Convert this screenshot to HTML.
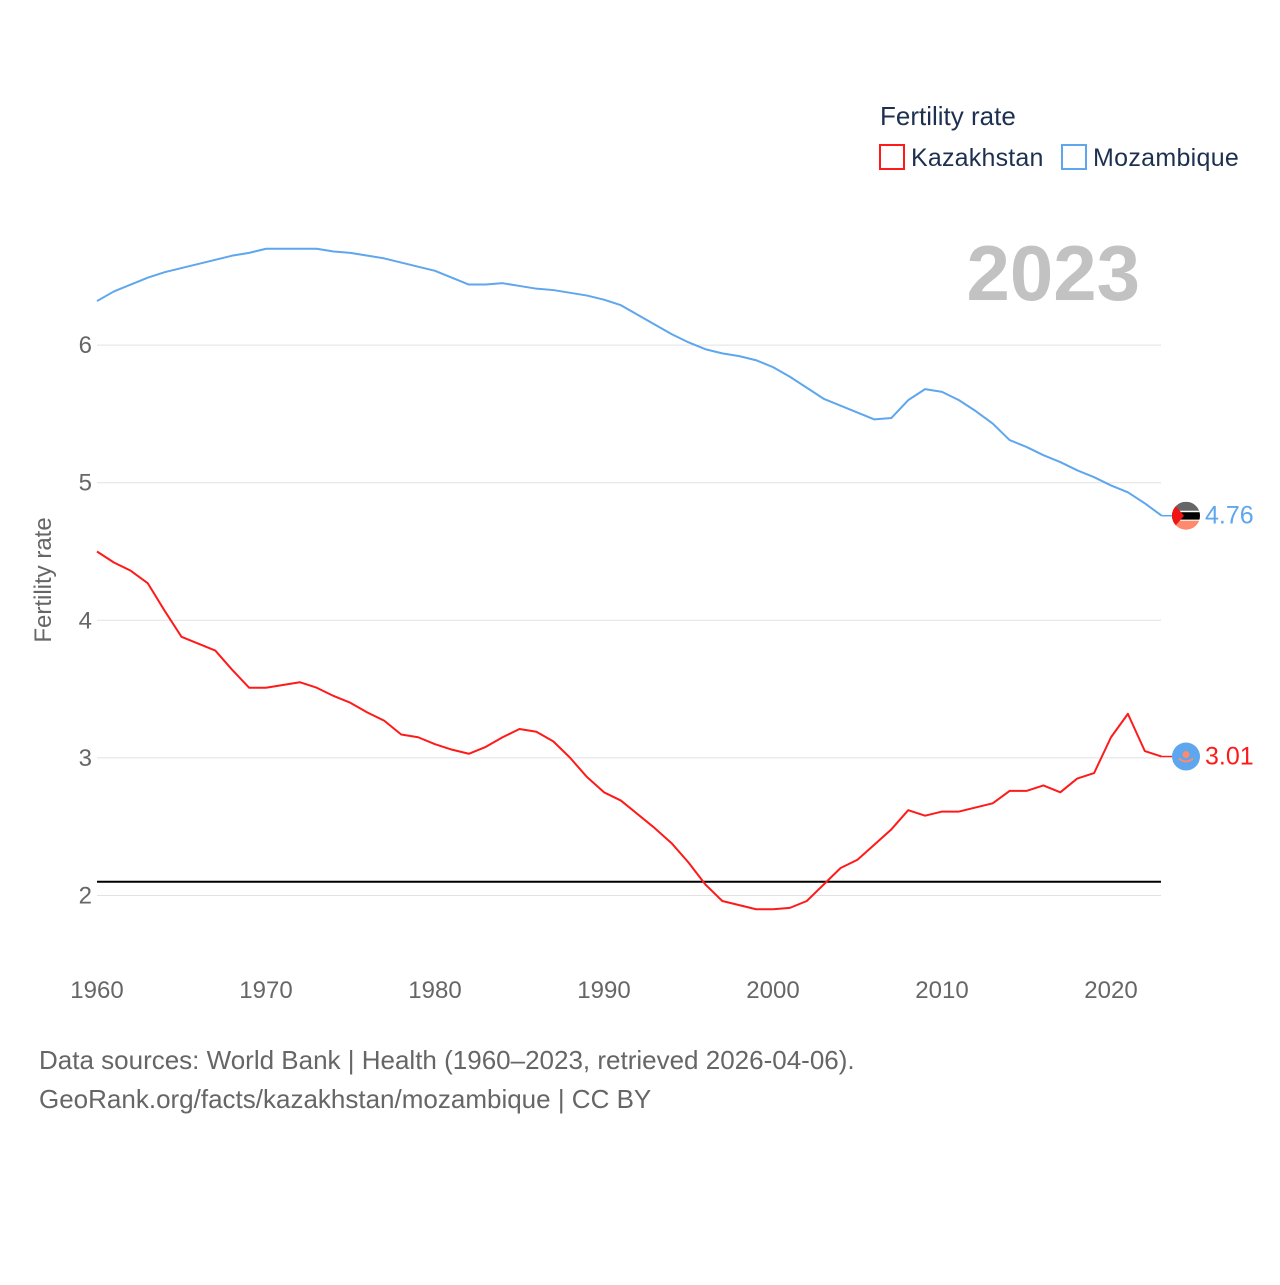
<!DOCTYPE html>
<html><head><meta charset="utf-8"><style>
html,body{margin:0;padding:0;background:#fff;}
svg text{font-family:"Liberation Sans",sans-serif;}
</style></head><body>
<svg id="chart" width="1280" height="1280" viewBox="0 0 1280 1280" xmlns="http://www.w3.org/2000/svg">
<text x="880" y="125" font-size="26" fill="#1d3050">Fertility rate</text>
<rect x="880" y="145" width="24" height="24" fill="none" stroke="#ff1a1a" stroke-width="2"/>
<text x="911" y="166" font-size="25" fill="#1d3050" letter-spacing="0.2">Kazakhstan</text>
<rect x="1062" y="145" width="24" height="24" fill="none" stroke="#5ea6ee" stroke-width="2"/>
<text x="1093" y="166" font-size="25" fill="#1d3050" letter-spacing="0.3">Mozambique</text>
<text x="1140" y="300" font-size="78" font-weight="bold" fill="#c2c2c2" text-anchor="end">2023</text>
<text transform="translate(51,580) rotate(-90)" font-size="24" fill="#666" text-anchor="middle">Fertility rate</text>
<g id="grid"></g><g id="lines"></g><g id="ends"></g>
<text x="39" y="1069" font-size="26" fill="#666">Data sources: World Bank | Health (1960–2023, retrieved 2026-04-06).</text>
<text x="39" y="1108" font-size="26" fill="#666">GeoRank.org/facts/kazakhstan/mozambique | CC BY</text>
</svg>
<script>
const years = Array.from({length:64},(_,i)=>1960+i);
const mozambique = [6.32,6.39,6.44,6.49,6.53,6.56,6.59,6.62,6.65,6.67,6.70,6.70,6.70,6.70,6.68,6.67,6.65,6.63,6.60,6.57,6.54,6.49,6.44,6.44,6.45,6.43,6.41,6.40,6.38,6.36,6.33,6.29,6.22,6.15,6.08,6.02,5.97,5.94,5.92,5.89,5.84,5.77,5.69,5.61,5.56,5.51,5.46,5.47,5.60,5.68,5.66,5.60,5.52,5.43,5.31,5.26,5.20,5.15,5.09,5.04,4.98,4.93,4.85,4.76];
const kazakhstan = [4.50,4.42,4.36,4.27,4.07,3.88,3.83,3.78,3.64,3.51,3.51,3.53,3.55,3.51,3.45,3.40,3.33,3.27,3.17,3.15,3.10,3.06,3.03,3.08,3.15,3.21,3.19,3.12,3.00,2.86,2.75,2.69,2.59,2.49,2.38,2.24,2.08,1.96,1.93,1.90,1.90,1.91,1.96,2.08,2.20,2.26,2.37,2.48,2.62,2.58,2.61,2.61,2.64,2.67,2.76,2.76,2.80,2.75,2.85,2.89,3.15,3.32,3.05,3.01];
const yTicks = [2,3,4,5,6];
const xTicks = [1960,1970,1980,1990,2000,2010,2020];
const replacementRate = 2.1;
const NS="http://www.w3.org/2000/svg";
const x = y => 97 + (y-1960)*(1111-97)/60;
const yv = v => 895.5 - (v-2)*137.6;
function mk(tag, attrs, parent){const e=document.createElementNS(NS,tag);for(const k in attrs)e.setAttribute(k,attrs[k]);parent.appendChild(e);return e;}
const grid=document.getElementById('grid'), lines=document.getElementById('lines'), ends=document.getElementById('ends');
yTicks.forEach(t=>{
  const l=mk('line',{x1:97,x2:1161,y1:yv(t),y2:yv(t),stroke:'#e2e2e2','stroke-width':1},grid);
  
  
  const tx=mk('text',{x:92,y:yv(t)+8,'font-size':24,fill:'#666','text-anchor':'end'},grid);
  tx.textContent=t;
  
  
});
xTicks.forEach(t=>{
  const tx=mk('text',{x:x(t),y:998,'font-size':24,fill:'#666','text-anchor':'middle'},grid);
  tx.textContent=t;
  
  
});
const rl=mk('line',{x1:97,x2:1161,y1:yv(replacementRate),y2:yv(replacementRate),stroke:'#000','stroke-width':2},grid);


function series(vals,color,name){
  const p=mk('polyline',{points:vals.map((v,i)=>x(years[i])+','+yv(v)).join(' '),fill:'none',stroke:color,'stroke-width':2,'stroke-linejoin':'round'},lines);
  
  
  const last=vals[vals.length-1], lx=x(years[years.length-1]), ly=yv(last);
  mk('line',{x1:lx,x2:1172,y1:ly,y2:ly,stroke:color,'stroke-width':1.5},ends);
  const t=mk('text',{x:1205,y:ly+8,'font-size':25,fill:color},ends);
  t.textContent=last.toFixed(2);
  
  
  return ly;
}
const my=series(mozambique,'#5ea6ee','mozambique');
const ky=series(kazakhstan,'#ff1a1a','kazakhstan');
const fm=mk('g',{},ends);


const cp=mk('clipPath',{id:'cm'},fm); mk('circle',{cx:1186,cy:my,r:14},cp);
const gm=mk('g',{'clip-path':'url(#cm)'},fm);
mk('rect',{x:1172,y:my-14,width:28,height:10,fill:'#666'},gm);
mk('rect',{x:1172,y:my-4,width:28,height:8,fill:'#000'},gm);
mk('rect',{x:1172,y:my-5,width:28,height:1.5,fill:'#fff'},gm);
mk('rect',{x:1172,y:my+4,width:28,height:1.5,fill:'#fff'},gm);
mk('rect',{x:1172,y:my+5,width:28,height:10,fill:'#ff8a6e'},gm);
mk('polygon',{points:`1172,${my-14} 1184,${my} 1172,${my+14}`,fill:'#f01414'},gm);
const fk=mk('g',{},ends);


mk('circle',{cx:1186,cy:ky,r:14,fill:'#5ea6ee'},fk);
mk('circle',{cx:1186,cy:ky-2,r:3.5,fill:'#ff8a6e'},fk);
mk('path',{d:`M1179,${ky+2} Q1186,${ky+8} 1193,${ky+2}`,fill:'none',stroke:'#ff8a6e','stroke-width':2},fk);
</script>
</body></html>
